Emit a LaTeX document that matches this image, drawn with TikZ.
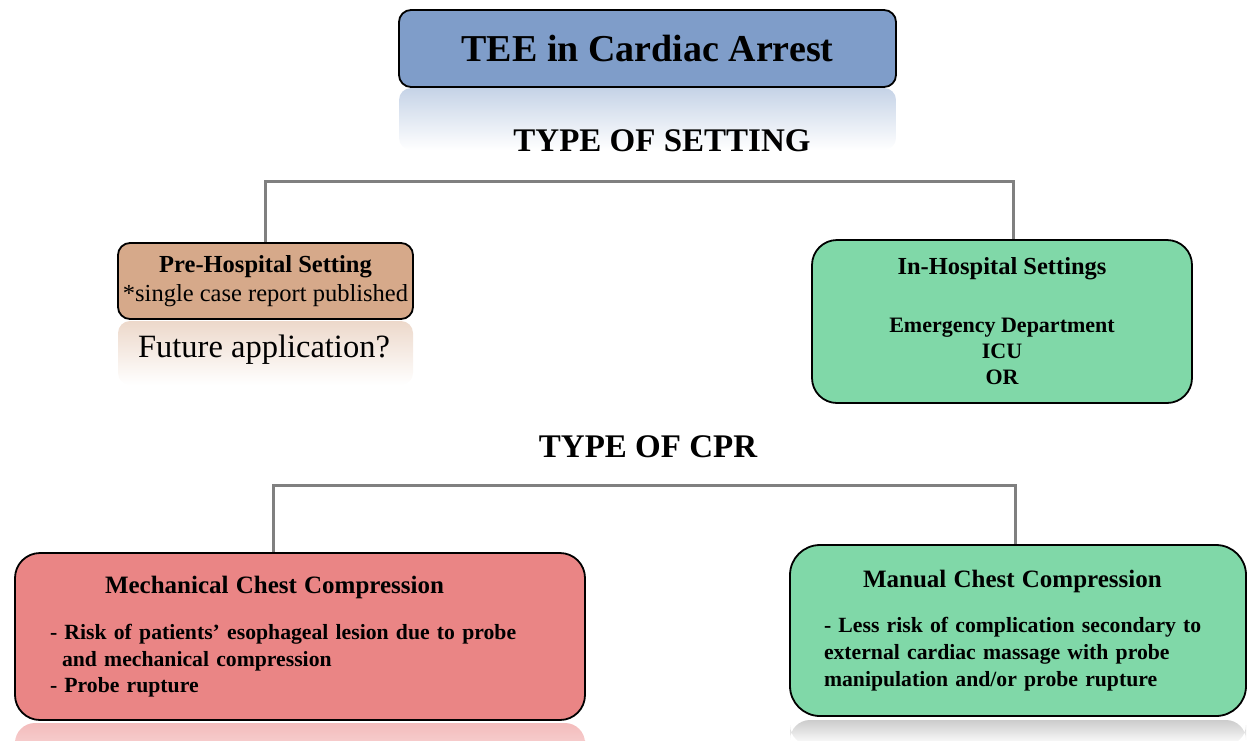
\documentclass[tikz,border=0pt]{standalone}
\usepackage{fontspec}
\setmainfont{Liberation Serif}
\usepackage{tikz}
\usepackage{xcolor}
\definecolor{titleblue}{HTML}{7F9DC9}
\definecolor{pretan}{HTML}{D6A98A}
\definecolor{inhgreen}{HTML}{80D8A8}
\definecolor{mechred}{HTML}{EA8585}
\definecolor{connGray}{HTML}{808080}

\begin{document}
\begin{tikzpicture}[x=1pt,y=-1pt,
    box/.style={draw=black, line width=1.8pt, inner sep=0pt, font=\bfseries},
    conn/.style={draw=connGray, line width=3pt},
    heading/.style={font=\bfseries\fontsize{33}{38}\selectfont}]
                \useasboundingbox (0,0) rectangle (1249,740);
                \shade[top color=titleblue!45, bottom color=white, rounded corners=12pt] (399,150) rectangle (896,88);
                \shade[top color=pretan!45, bottom color=white, rounded corners=12pt] (118,385) rectangle (413,321);
                \shade[top color=mechred!55, bottom color=mechred!30, rounded corners=20pt] (15,760) rectangle (585,723);
                \shade[top color=black!20, bottom color=white, rounded corners=20pt] (790,745) rectangle (1246,720);
                \node[box, fill=titleblue, rounded corners=12pt, minimum width=497pt, minimum height=77pt,
                    font=\bfseries\fontsize{38}{44}\selectfont] (tee) at (647.5,48.5) {TEE in Cardiac Arrest};
                \node[heading] (setting) at (662,141) {TYPE OF SETTING};
                \node[box, fill=pretan, rounded corners=12pt, minimum width=295pt, minimum height=76pt, align=center,
                    font=\fontsize{24.5}{29}\selectfont] (pre) at (265.5,281)
                    {\textbf{Pre-Hospital Setting}\\*single case report published};
                \node[font=\fontsize{32.5}{38}\selectfont] (future) at (264,350) {Future application?};
                \node[box, fill=inhgreen, rounded corners=25pt, minimum width=380pt, minimum height=163pt, align=center,
                    font=\bfseries\fontsize{22}{26}\selectfont] (inh) at (1002,321.5)
                    {{\fontsize{24.5}{29}\selectfont In-Hospital Settings}\\[32pt]Emergency Department\\ICU\\OR};
                \node[heading] (cpr) at (648,447) {TYPE OF CPR};
                \node[box, fill=mechred, rounded corners=25pt, text width=500pt, inner xsep=35pt, minimum height=167pt,
                    align=left, font=\bfseries\fontsize{21.7}{26.5}\selectfont] (mech) at (300,636.5)
                    {\hspace*{55pt}{\fontsize{25}{30}\selectfont Mechanical Chest Compression}\\[20pt]
                     - Risk of patients’ esophageal lesion due to probe\\
                     \hspace*{12pt}and mechanical compression\\
                     - Probe rupture};
                \node[box, fill=inhgreen, rounded corners=30pt, text width=388pt, inner xsep=34pt, minimum height=171pt,
                    align=left, font=\bfseries\fontsize{21.7}{27}\selectfont] (man) at (1018,630.5)
                    {\hspace*{39pt}{\fontsize{25}{30}\selectfont Manual Chest Compression}\\[18pt]
                     - Less risk of complication secondary to\\
                     external cardiac massage with probe\\
                     manipulation and/or probe rupture};
                \coordinate (preTop) at ([yshift=61pt]pre.north);
                \draw[conn] (pre.north) -- (preTop) -| ([xshift=11pt]inh.north);
                \coordinate (mechTop) at ([xshift=-27pt,yshift=67pt]mech.north);
                \draw[conn] ([xshift=-27pt]mech.north) -- (mechTop) -| ([xshift=-3pt]man.north);
            \end{tikzpicture}
\end{document}
